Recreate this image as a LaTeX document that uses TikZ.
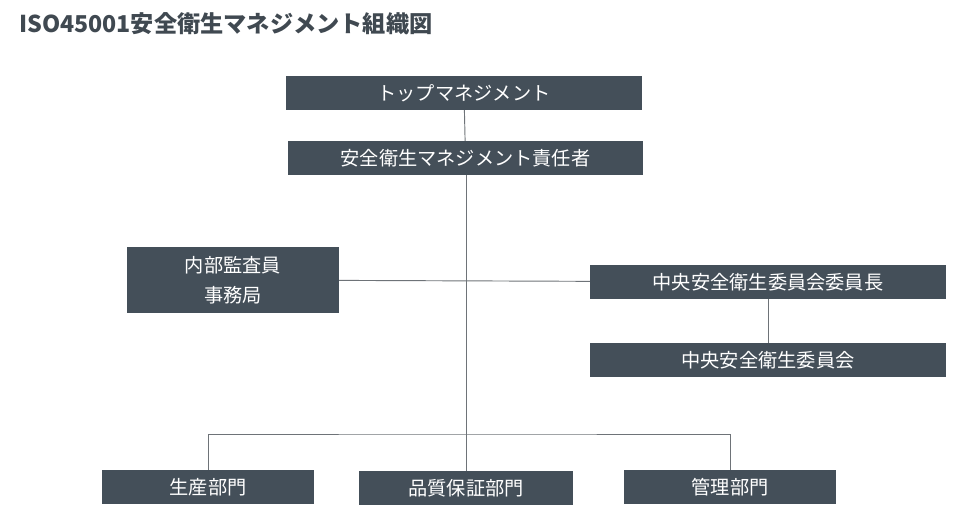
\documentclass[tikz,border=0pt]{standalone}
\usepackage{fontspec}
\setmainfont{Noto Sans CJK JP}
\usepackage{xcolor}
\usetikzlibrary{positioning,calc}

\definecolor{boxfill}{HTML}{444F59}
\definecolor{titlegray}{HTML}{404951}
\definecolor{linegray}{HTML}{6E7378}

\begin{document}
\begin{tikzpicture}[
    x=0.03cm, y=-0.03cm,
    orgbox/.style = {fill=boxfill, text=white, inner sep=0pt,
      minimum height=34*0.03cm, font=\fontsize{16.4}{26}\selectfont, align=center},
    wide/.style = {orgbox, minimum width=356*0.03cm},
    narrow/.style = {orgbox, minimum width=212*0.03cm},
    link/.style = {draw=linegray, line width=0.8pt}
  ]
  \useasboundingbox (0,0) rectangle (969,515);

  % タイトル
  \node[anchor=west, text=titlegray, font=\fontsize{19.8}{24}\selectfont\bfseries] (title) at (15,24)
    {ISO45001安全衛生マネジメント組織図};

  % 上位
  \node[wide] (top) at (464,93) {トップマネジメント};
  \node[wide, minimum width=355*0.03cm] (mgr) at (465.5,158) {安全衛生マネジメント責任者};

  % 中段
  \node[narrow, minimum height=66*0.03cm] (audit) at (233,280) {内部監査員\\事務局};
  \node[wide] (chair) at (768,282) {中央安全衛生委員会委員長};
  \node[wide] (comm) at (768,360) {中央安全衛生委員会};

  % 部門
  \node[narrow] (prod) at (208,487) {生産部門};
  \node[narrow, minimum width=214*0.03cm] (qa) at (466,488) {品質保証部門};
  \node[narrow] (adm) at (730,487) {管理部門};

  \coordinate (bus) at (466,434);

  \draw[link] (top) -- (mgr);
  \draw[link] (mgr.south -| bus) -- (qa.north);
  \draw[link] (audit) -- (chair);
  \draw[link] (chair) -- (comm);
  \draw[link] (prod.north) |- (bus) -| (adm.north);
\end{tikzpicture}
\end{document}
